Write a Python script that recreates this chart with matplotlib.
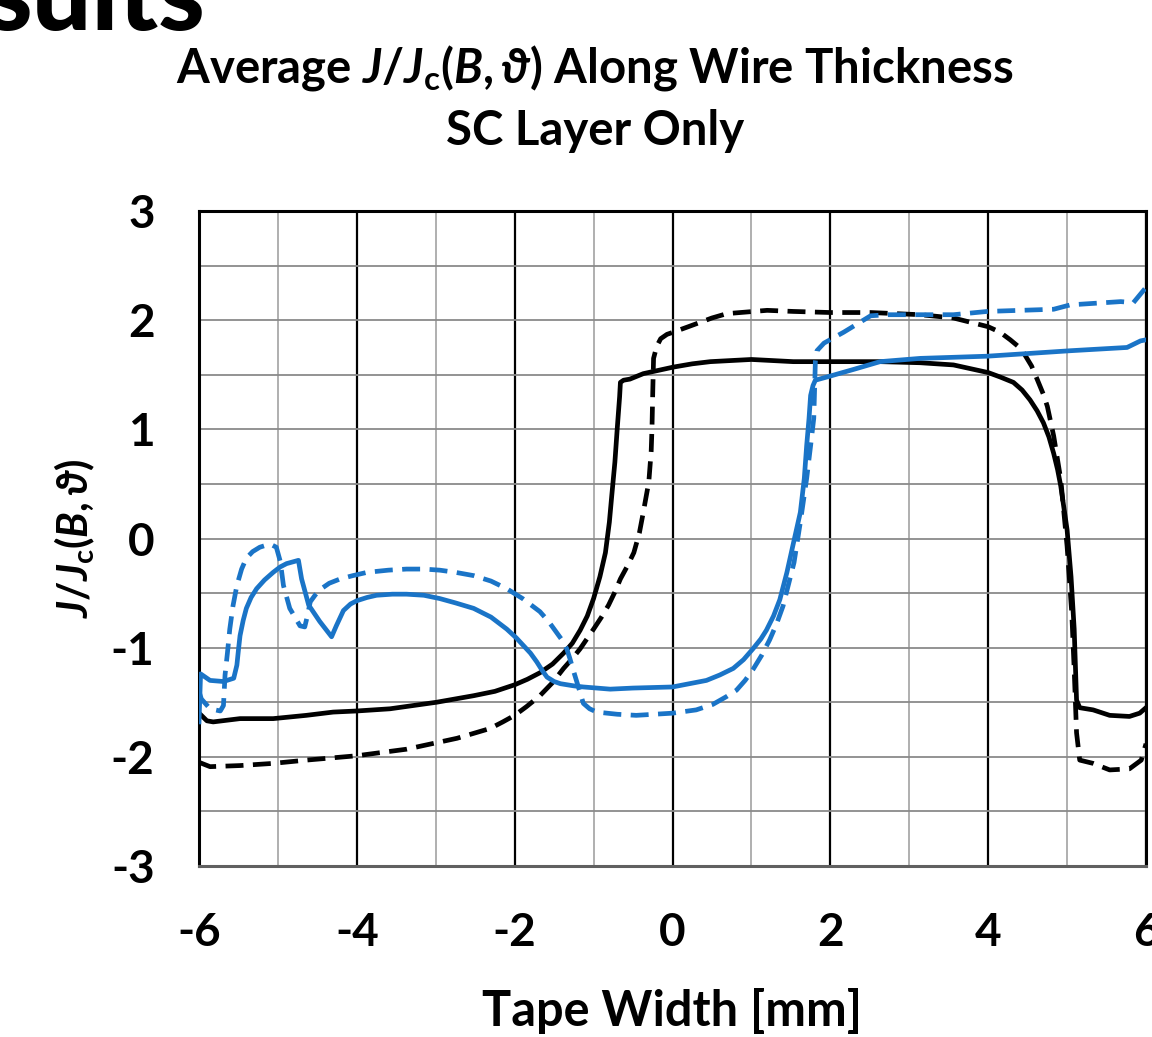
import matplotlib
matplotlib.use("Agg")
import matplotlib.pyplot as plt
import numpy as np

# ---------------- data ----------------
black_solid_x = [-6.0, -5.97, -5.90, -5.82, -5.48, -5.06, -4.64, -4.30, -4.0, -3.58, -2.99, -2.52,
                 -2.25, -2.0, -1.84, -1.68, -1.52, -1.38, -1.27, -1.17, -1.08, -1.0, -0.92, -0.85,
                 -0.80, -0.77, -0.73, -0.70, -0.67, -0.66, -0.62, -0.54, -0.37, -0.18, 0.01, 0.25,
                 0.48, 1.0, 1.53, 2.0, 2.63, 3.14, 3.56, 4.0, 4.15, 4.32, 4.43, 4.53, 4.62, 4.70,
                 4.77, 4.83, 4.88, 4.92, 5.0, 5.05, 5.09, 5.12, 5.16, 5.33, 5.54, 5.79, 5.92, 6.0]
black_solid_y = [-1.60, -1.62, -1.67, -1.68, -1.65, -1.65, -1.62, -1.59, -1.58, -1.56, -1.50, -1.44,
                 -1.40, -1.34, -1.29, -1.23, -1.15, -1.05, -0.96, -0.84, -0.71, -0.55, -0.35, -0.13,
                 0.15, 0.39, 0.70, 1.01, 1.30, 1.43, 1.45, 1.46, 1.51, 1.54, 1.57, 1.60,
                 1.62, 1.64, 1.62, 1.62, 1.62, 1.61, 1.59, 1.52, 1.48, 1.43, 1.36, 1.27, 1.17, 1.06,
                 0.93, 0.78, 0.63, 0.48, 0.08, -0.35, -0.83, -1.48, -1.55, -1.57, -1.62, -1.63, -1.60, -1.55]

black_dash_x = [-6.0, -5.86, -5.48, -5.06, -4.64, -4.0, -3.37, -2.73, -2.31, -2.15, -2.0, -1.85,
                -1.68, -1.52, -1.38, -1.27, -1.17, -1.0, -0.90, -0.81, -0.73, -0.66, -0.57, -0.49,
                -0.42, -0.37, -0.30, -0.27, -0.26, -0.25, -0.24, -0.20, -0.15, -0.07, 0.01, 0.20,
                0.35, 0.50, 0.69, 1.03, 1.20, 1.53, 2.0, 2.51, 3.14, 3.56, 4.0, 4.15, 4.28, 4.38,
                4.45, 4.55, 4.62, 4.70, 4.75, 4.83, 4.92, 5.0, 5.06, 5.09, 5.12, 5.16, 5.33, 5.54,
                5.79, 5.94, 6.0]
black_dash_y = [-2.05, -2.09, -2.08, -2.06, -2.03, -1.99, -1.93, -1.83, -1.74, -1.68, -1.62, -1.54,
                -1.44, -1.32, -1.19, -1.10, -1.01, -0.83, -0.72, -0.61, -0.49, -0.37, -0.25, -0.13,
                0.05, 0.24, 0.52, 0.80, 1.01, 1.35, 1.65, 1.76, 1.83, 1.87, 1.89, 1.94,
                1.98, 2.02, 2.06, 2.08, 2.09, 2.08, 2.07, 2.07, 2.05, 2.02, 1.94, 1.89, 1.82, 1.76,
                1.70, 1.58, 1.46, 1.32, 1.21, 0.94, 0.54, -0.07, -0.69, -1.20, -1.78, -2.03, -2.06, -2.12,
                -2.11, -2.03, -1.88]

blue_solid_x = [-6.0, -5.98, -5.86, -5.69, -5.56, -5.52, -5.50, -5.48, -5.44, -5.40, -5.34, -5.27,
                -5.17, -5.06, -4.97, -4.89, -4.74, -4.70, -4.61, -4.47, -4.32, -4.26, -4.17, -4.08,
                -4.0, -3.87, -3.75, -3.55, -3.37, -3.15, -2.95, -2.75, -2.52, -2.30, -2.10, -1.98,
                -1.89, -1.80, -1.72, -1.65, -1.59, -1.50, -1.42, -1.25, -1.13, -0.79, -0.50, 0.0,
                0.43, 0.60, 0.77, 0.90, 1.02, 1.12, 1.19, 1.28, 1.36, 1.45, 1.53, 1.62, 1.67, 1.70,
                1.73, 1.75, 1.78, 1.81, 1.96, 2.30, 2.63, 3.14, 3.99, 5.04, 5.76, 5.93, 6.0]
blue_solid_y = [-1.68, -1.24, -1.30, -1.31, -1.28, -1.16, -1.02, -0.89, -0.75, -0.64, -0.54, -0.46,
                -0.38, -0.31, -0.26, -0.23, -0.20, -0.37, -0.61, -0.76, -0.90, -0.80, -0.66, -0.60,
                -0.57, -0.54, -0.52, -0.51, -0.51, -0.52, -0.55, -0.59, -0.64, -0.72, -0.83, -0.91,
                -0.98, -1.05, -1.13, -1.21, -1.27, -1.31, -1.33, -1.35, -1.36, -1.38, -1.37, -1.36,
                -1.30, -1.25, -1.19, -1.11, -1.01, -0.92, -0.84, -0.71, -0.56, -0.31, -0.05, 0.24, 0.55, 0.85,
                1.10, 1.31, 1.40, 1.45, 1.48, 1.55, 1.62, 1.65, 1.67, 1.72, 1.75, 1.81, 1.82]

blue_dash_x = [-6.0, -5.97, -5.86, -5.73, -5.69, -5.67, -5.64, -5.61, -5.57, -5.52, -5.46, -5.40,
               -5.32, -5.23, -5.10, -5.02, -4.97, -4.93, -4.85, -4.72, -4.66, -4.63, -4.59, -4.53,
               -4.47, -4.35, -4.21, -4.05, -3.87, -3.60, -3.37, -3.15, -2.95, -2.75, -2.52, -2.30,
               -2.10, -1.90, -1.68, -1.57, -1.47, -1.40, -1.34, -1.30, -1.26, -1.18, -1.13, -1.05,
               -0.96, -0.70, -0.46, 0.0, 0.30, 0.51, 0.68, 0.81, 0.92, 1.02, 1.13, 1.23, 1.32,
               1.40, 1.47, 1.54, 1.62, 1.70, 1.75, 1.79, 1.80, 1.81, 1.83, 1.92, 2.17, 2.51, 2.72,
               3.56, 3.99, 4.83, 5.04, 5.68, 5.84, 6.0]
blue_dash_y = [-1.40, -1.47, -1.56, -1.58, -1.53, -1.25, -1.05, -0.83, -0.62, -0.43, -0.28, -0.18,
               -0.12, -0.08, -0.05, -0.08, -0.21, -0.43, -0.64, -0.80, -0.81, -0.72, -0.58, -0.52,
               -0.47, -0.41, -0.37, -0.34, -0.31, -0.29, -0.28, -0.28, -0.29, -0.31, -0.34, -0.39,
               -0.46, -0.55, -0.67, -0.76, -0.86, -0.93, -1.01, -1.10, -1.20, -1.39, -1.51, -1.56,
               -1.59, -1.61, -1.62, -1.60, -1.57, -1.52, -1.45, -1.39, -1.30, -1.20, -1.07, -0.93, -0.78,
               -0.62, -0.42, -0.22, 0.15, 0.55, 0.85, 1.10, 1.35, 1.62, 1.72, 1.79, 1.89, 2.04, 2.05,
               2.05, 2.08, 2.10, 2.14, 2.17, 2.16, 2.30]

x_ticks = [-6, -4, -2, 0, 2, 4, 6]
y_ticks = [-3, -2, -1, 0, 1, 2, 3]

title_line1 = r"Average $J/J_{\mathrm{c}}(B,\vartheta)$ Along Wire Thickness"
title_line2 = "SC Layer Only"
x_label = "Tape Width [mm]"
y_label = r"$J/J_{\mathrm{c}}(B,\vartheta)$"
slide_title = "sults"

# ---------------- style ----------------
plt.rcParams['font.family'] = ['Lato', 'DejaVu Sans']
plt.rcParams['font.weight'] = 'bold'
plt.rcParams['axes.unicode_minus'] = False
plt.rcParams['mathtext.fontset'] = 'custom'
plt.rcParams['mathtext.rm'] = 'Lato:bold'
plt.rcParams['mathtext.it'] = 'Lato:bold:italic'
plt.rcParams['mathtext.bf'] = 'Lato:bold'

BLUE = '#1a74c7'
LW = 3.4
DASH = (0, (3.8, 2.0))

W, H = 1152, 1037
fig = plt.figure(figsize=(W / 100, H / 100), dpi=100)
ax = fig.add_axes([199 / W, 1 - 866 / H, (1146 - 199) / W, (866 - 211) / H])

ax.plot(black_solid_x, black_solid_y, color='black', lw=LW, solid_joinstyle='round', zorder=3)
ax.plot(black_dash_x, black_dash_y, color='black', lw=LW, ls=DASH, zorder=3)
ax.plot(blue_solid_x, blue_solid_y, color=BLUE, lw=LW, solid_joinstyle='round', zorder=4)
ax.plot(blue_dash_x, blue_dash_y, color=BLUE, lw=LW, ls=DASH, zorder=4)

ax.set_xlim(-6, 6)
ax.set_ylim(-3, 3)
ax.set_xticks(x_ticks)
ax.set_xticks(np.arange(-5, 6, 2), minor=True)
ax.set_yticks(y_ticks)
ax.set_yticks(np.arange(-2.5, 3, 1.0), minor=True)
ax.set_xticklabels([str(t) for t in x_ticks])
ax.set_yticklabels([str(t) for t in y_ticks])
ax.set_axisbelow(True)
ax.grid(True, axis='x', which='major', color='black', lw=1.6)
ax.grid(True, axis='x', which='minor', color='#9a9a9a', lw=1.1)
ax.grid(True, axis='y', which='both', color='#8a8a8a', lw=1.3)
ax.tick_params(which='both', length=0)
ax.tick_params(axis='x', labelsize=33, pad=33)
ax.tick_params(axis='y', labelsize=33, pad=32)
for lab in ax.get_xticklabels() + ax.get_yticklabels():
    lab.set_fontweight('bold')
for side in ['left', 'top', 'right']:
    ax.spines[side].set_linewidth(2.2)
    ax.spines[side].set_color('black')
ax.spines['bottom'].set_linewidth(2.2)
ax.spines['bottom'].set_color('#606060')

ax.set_xlabel(x_label, fontsize=35, fontweight='bold', va='center')
ax.xaxis.set_label_coords(0.5, -0.222)
ax.set_ylabel(y_label, fontsize=30, fontweight='bold', va='center')
ax.yaxis.set_label_coords(-0.131, 0.5)

fig.text(595 / W, 1 - 68 / H, title_line1, ha='center', va='center', fontsize=34, fontweight='bold')
fig.text(595 / W, 1 - 131 / H, title_line2, ha='center', va='center', fontsize=34, fontweight='bold')
fig.text(-14 / W, 1 - 30 / H, slide_title, ha='left', va='baseline', fontsize=76, fontweight='black')

fig.savefig('out.png', dpi=100)
